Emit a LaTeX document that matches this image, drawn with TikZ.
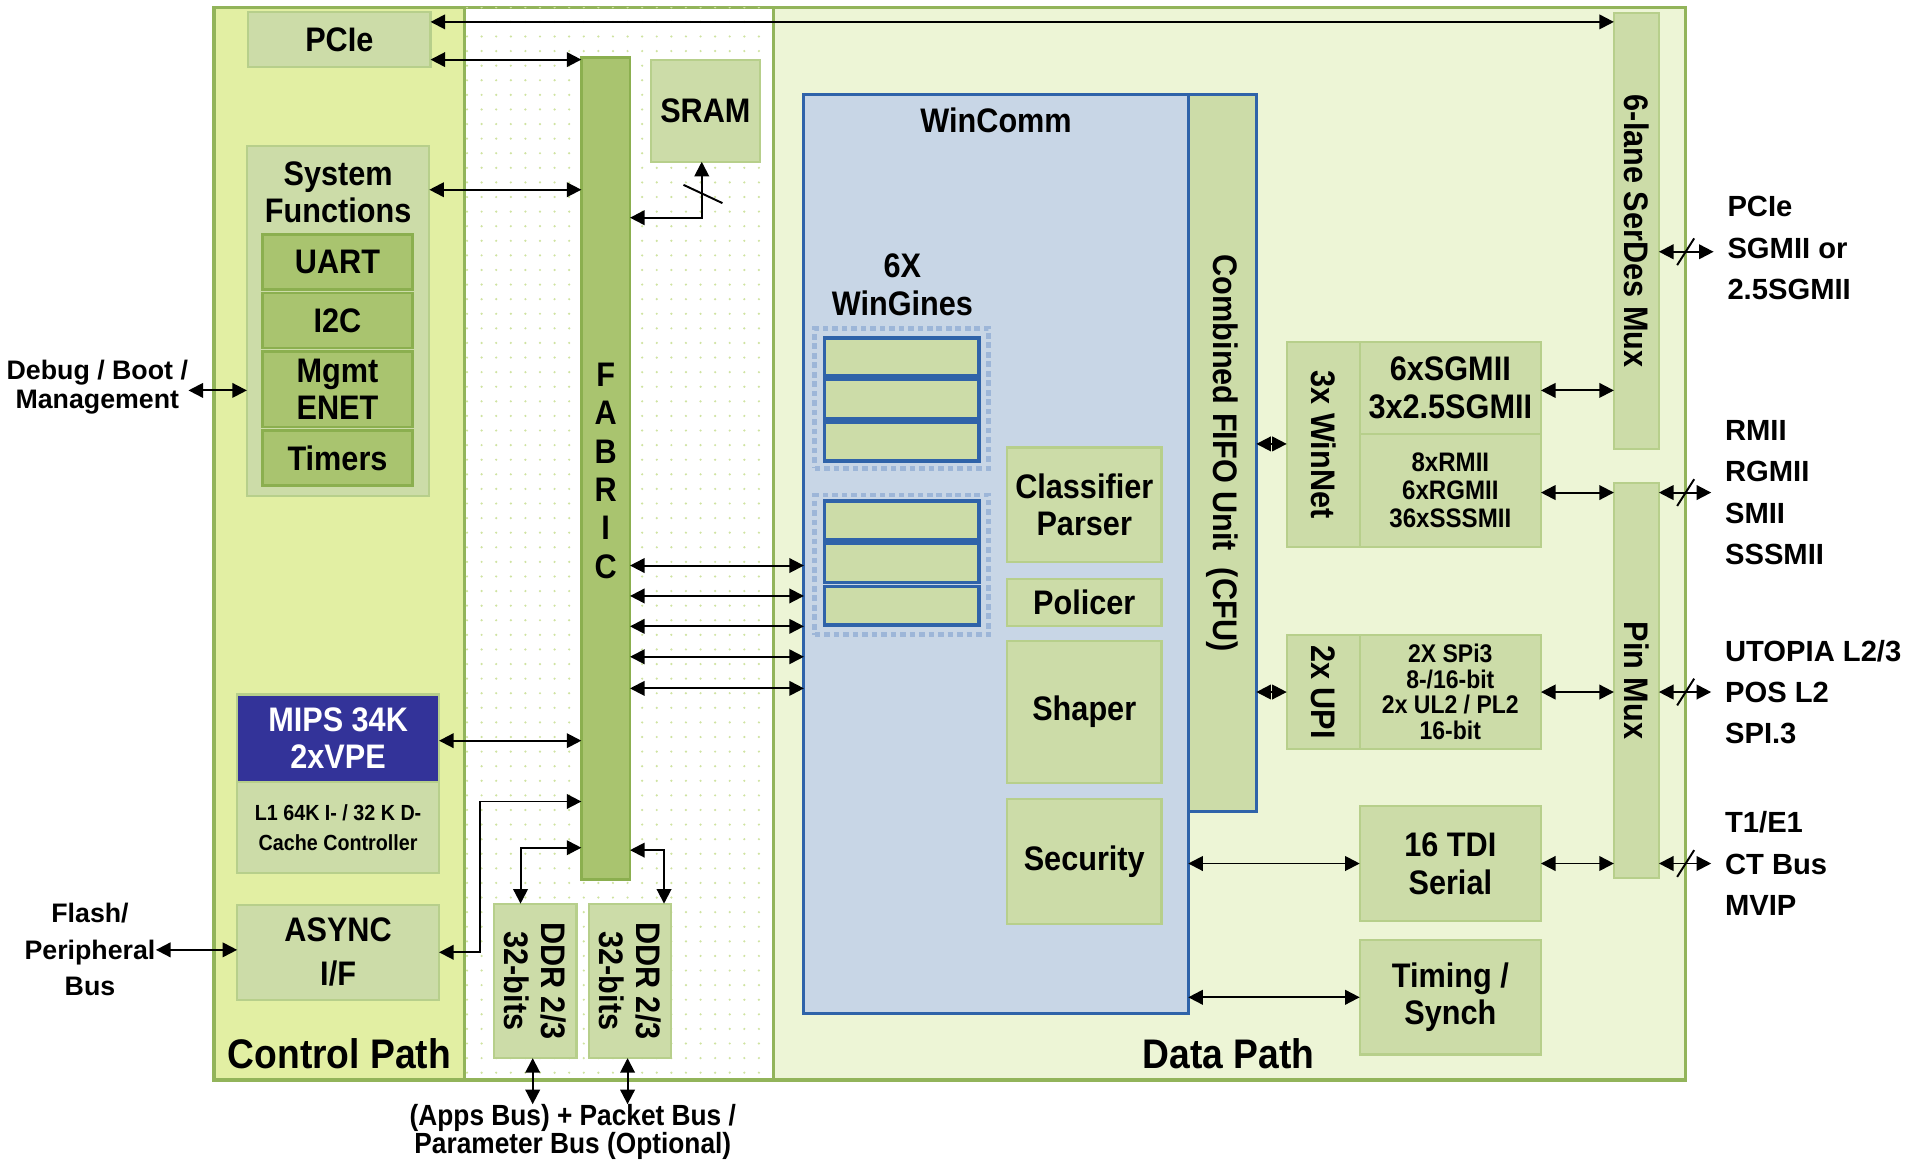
\documentclass[tikz,border=0pt]{standalone}
\usepackage{fontspec}
\setmainfont{Liberation Sans}[FakeStretch=0.9]
\newfontfamily\extfont{Liberation Sans}
\usetikzlibrary{arrows.meta,patterns.meta,calc}
\definecolor{frameg}{HTML}{92B45A}
\definecolor{cpfill}{HTML}{E2EFA3}
\definecolor{dpfill}{HTML}{EDF5D6}
\definecolor{dotg}{HTML}{CFE3A0}
\definecolor{sage}{HTML}{CCDCA8}
\definecolor{sageb}{HTML}{B7CF8B}
\definecolor{dgreen}{HTML}{A9C46F}
\definecolor{dgreenb}{HTML}{8BAF4F}
\definecolor{wcfill}{HTML}{C8D6E6}
\definecolor{wcblue}{HTML}{2F63A9}
\definecolor{mipsblue}{HTML}{333399}
\definecolor{dotblue}{HTML}{9DB6D8}
\newcommand\fsz[2]{\fontsize{#1}{#2}\selectfont\bfseries}
\newcommand\efsz[2]{\extfont\fontsize{#1}{#2}\selectfont\bfseries}
\newcommand\bx[7][]{\node[#1, minimum width={(#5-#3)*0.5pt}, minimum height={(#6-#4)*0.5pt}] (#2) at ({(#3+#5)/2},{(#4+#6)/2}) {#7};}
\tikzset{
  region/.style={draw=frameg, line width=1.3pt, inner sep=0pt, outer sep=0pt},
  sagebox/.style={draw=sageb, fill=sage, line width=0.9pt, inner sep=0pt, outer sep=0pt, align=center, font=\fsz{14}{15.5}},
  dgbox/.style={draw=dgreenb, fill=dgreen, line width=1.1pt, inner sep=0pt, outer sep=0pt, align=center, font=\fsz{14}{15.5}},
  mipsbox/.style={draw=sageb, fill=mipsblue, text=white, line width=0.9pt, inner sep=0pt, outer sep=0pt, align=center, font=\fsz{14}{15.5}},
  wcbox/.style={draw=wcblue, fill=wcfill, line width=1.2pt, inner sep=0pt, outer sep=0pt},
  cfubox/.style={draw=wcblue, fill=sage, line width=1.2pt, inner sep=0pt, outer sep=0pt},
  wgbox/.style={draw=wcblue, fill=sage, line width=1.4pt, inner sep=0pt, outer sep=0pt},
  wggroup/.style={draw=dotblue, line width=2pt, dash pattern=on 2.3pt off 1.6pt, inner sep=0pt, outer sep=0pt},
  lbl/.style={inner sep=0pt, align=center, font=\fsz{14}{15.5}},
  rot/.style={inner sep=0pt, align=center, rotate=-90, font=\fsz{14}{15}},
  ext/.style={inner sep=0pt, align=left, anchor=west, font=\efsz{12}{17}},
  dbl/.style={line width=0.8pt, {Triangle[length=6pt,width=6pt]}-{Triangle[length=6pt,width=6pt]}},
  slash/.style={line width=0.8pt}
}
\begin{document}
\begin{tikzpicture}[x=0.5pt,y=-0.5pt]
\fill[white] (0,0) rectangle (1568,954);
\useasboundingbox (0,0) rectangle (1568,954);
% regions
\bx[region, fill=cpfill]{cp}{176}{6}{382}{888}{}
\bx[region, fill=white, postaction={pattern={Dots[distance=6pt,radius=0.5pt]}, pattern color=dotg}]{mid}{382}{6}{636}{888}{}
\bx[region, fill=dpfill]{dp}{636}{6}{1386}{888}{}
% control path
\bx[sagebox]{pcie}{204}{10}{354}{55}{PCIe}
\bx[sagebox]{sysf}{203}{120}{353}{408}{}
\node[lbl] (sysft) at (278,158) {System\\Functions};
\bx[dgbox]{uart}{216}{193}{339}{238}{UART}
\bx[dgbox]{i2c}{216}{241}{339}{286}{I2C}
\bx[dgbox]{mgmt}{216}{289}{339}{351}{Mgmt\\ENET}
\bx[dgbox]{timers}{216}{354}{339}{399}{Timers}
\bx[mipsbox]{mipsc}{195}{571}{361}{643}{MIPS 34K\\2xVPE}
\bx[sagebox, font=\fsz{9}{12}]{l1}{195}{643}{361}{718}{L1 64K I- / 32 K D-\\Cache Controller}
\bx[sagebox, font=\fsz{14}{18}]{async}{195}{744}{361}{822}{ASYNC\\I/F}
\node[lbl, font=\fsz{17}{20}] (cptitle) at (279,866) {Control Path};
% middle
\bx[dgbox]{fabric}{478}{47}{518}{723}{}
\node[lbl, font=\fsz{14}{15.8}] (fabt) at (498,387) {F\\A\\B\\R\\I\\C};
\bx[sagebox]{sram}{535}{49}{625}{133}{SRAM}
\bx[sagebox]{ddra}{406}{743}{474}{870}{}
\node[rot] (ddrat) at (ddra.center) {DDR 2/3\\32-bits};
\bx[sagebox]{ddrb}{484}{743}{552}{870}{}
\node[rot] (ddrbt) at (ddrb.center) {DDR 2/3\\32-bits};
\node[lbl, font=\fsz{12}{11.5}] (busl) at (471,931) {(Apps Bus) + Packet Bus /\\Parameter Bus (Optional)};
% data path
\bx[wcbox]{wc}{661}{78}{977}{833}{}
\node[lbl] (wct) at (819,99) {WinComm};
\bx[cfubox]{cfu}{977}{78}{1033}{667}{}
\node[rot] (cfut) at (cfu.center) {Combined FIFO Unit\ \ (CFU)};
\node[lbl] (wgt) at (742,234) {6X\\WinGines};
\bx[wggroup]{wga}{670}{270}{813}{385}{}
\bx[wggroup]{wgb}{670}{407}{813}{522}{}
\bx[wgbox]{wg1}{678}{278}{805}{309}{}
\bx[wgbox]{wg2}{678}{312}{805}{344}{}
\bx[wgbox]{wg3}{678}{347}{805}{379}{}
\bx[wgbox]{wg4}{678}{412}{805}{444}{}
\bx[wgbox]{wg5}{678}{447}{805}{479}{}
\bx[wgbox]{wg6}{678}{482}{805}{514}{}
\bx[sagebox]{cls}{828}{368}{955}{462}{Classifier\\Parser}
\bx[sagebox]{pol}{828}{476}{955}{515}{Policer}
\bx[sagebox]{shp}{828}{527}{955}{644}{Shaper}
\bx[sagebox]{sec}{828}{657}{955}{760}{Security}
\bx[sagebox]{winnet}{1058}{281}{1118}{450}{}
\node[rot] (winnett) at (winnet.center) {3x WinNet};
\bx[sagebox]{sgmii}{1118}{281}{1267}{357}{6xSGMII\\3x2.5SGMII}
\bx[sagebox, font=\fsz{11}{11.5}]{rmii}{1118}{357}{1267}{450}{8xRMII\\6xRGMII\\36xSSSMII}
\bx[sagebox]{upi}{1058}{522}{1118}{616}{}
\node[rot] (upit) at (upi.center) {2x UPI};
\bx[sagebox, font=\fsz{10.5}{10.5}]{spi}{1118}{522}{1267}{616}{2X SPi3\\8-/16-bit\\2x UL2 / PL2\\16-bit}
\bx[sagebox]{tdi}{1118}{663}{1267}{757}{16 TDI\\Serial}
\bx[sagebox]{tim}{1118}{773}{1267}{867}{Timing /\\Synch}
\bx[sagebox]{serdes}{1327}{11}{1364}{369}{}
\node[rot] (serdest) at (serdes.center) {6-lane SerDes Mux};
\bx[sagebox]{pinmux}{1327}{397}{1364}{722}{}
\node[rot] (pinmuxt) at (pinmux.center) {Pin Mux};
\node[lbl, font=\fsz{17}{20}] (dptitle) at (1010,866) {Data Path};
% external labels
\node[ext] (e1) at (1420,204) {PCIe\\SGMII or\\2.5SGMII};
\node[ext] (e2) at (1418,405) {RMII\\RGMII\\SMII\\SSSMII};
\node[ext] (e3) at (1418,569) {UTOPIA L2/3\\POS L2\\SPI.3};
\node[ext] (e4) at (1418,710) {T1/E1\\CT Bus\\MVIP};
\node[inner sep=0pt, align=center, font=\efsz{11}{12}] (dbg) at (80,318) {Debug / Boot /\\Management};
\node[inner sep=0pt, align=center, font=\efsz{11}{15}] (flash) at (74,781) {Flash/\\Peripheral\\Bus};
% connectors
\draw[dbl] (pcie.east |- 0,18) -- (serdes.west |- 0,18);
\draw[dbl] (pcie.east |- 0,49) -- (fabric.west |- 0,49);
\draw[dbl] (sysf.east |- 0,156) -- (fabric.west |- 0,156);
\draw[dbl] (mipsc.east |- 0,609) -- (fabric.west |- 0,609);
\draw[dbl] (async.east) -- ++(34,0) |- (fabric.west |- 0,659);
\draw[dbl] (ddra.north -| 428,0) |- (fabric.west |- 0,697);
\draw[dbl] (fabric.east |- 0,699) -| (ddrb.north -| 546,0);
\draw[dbl] (fabric.east |- 0,179) -| (sram.south -| 577,0);
\draw[slash] (562,152) -- (594,167);
\foreach \yy in {465,490,515,540,566} \draw[dbl] (fabric.east |- 0,\yy) -- (wc.west |- 0,\yy);
\draw[dbl] (cfu.east |- 0,365) -- (winnet.west |- 0,365);
\draw[dbl] (cfu.east |- 0,569) -- (upi.west |- 0,569);
\draw[dbl] (wc.east |- 0,710) -- (tdi.west |- 0,710);
\draw[dbl] (wc.east |- 0,820) -- (tim.west |- 0,820);
\draw[dbl] (sgmii.east |- 0,321) -- (serdes.west |- 0,321);
\draw[dbl] (rmii.east |- 0,405) -- (pinmux.west |- 0,405);
\draw[dbl] (spi.east |- 0,569) -- (pinmux.west |- 0,569);
\draw[dbl] (tdi.east |- 0,710) -- (pinmux.west |- 0,710);
\draw[dbl, shorten >=5.5pt] (serdes.east |- 0,207) -- (e1.west |- 0,207);
\draw[dbl, shorten >=5.5pt] (pinmux.east |- 0,405) -- (e2.west |- 0,405);
\draw[dbl, shorten >=5.5pt] (pinmux.east |- 0,569) -- (e3.west |- 0,569);
\draw[dbl, shorten >=5.5pt] (pinmux.east |- 0,710) -- (e4.west |- 0,710);
\foreach \yy in {207,405,569,710} \draw[slash] ($(dp.east |- 0,\yy)+(-7,11)$) -- ++(14,-22);
\draw[dbl] (dbg.east |- 0,321) -- (sysf.west |- 0,321);
\draw[dbl] (flash.east |- 0,781) -- (async.west |- 0,781);
\draw[dbl] (ddra.south -| 438,0) -- (busl.north -| 438,0);
\draw[dbl] (ddrb.south -| 516,0) -- (busl.north -| 516,0);
\end{tikzpicture}
\end{document}
